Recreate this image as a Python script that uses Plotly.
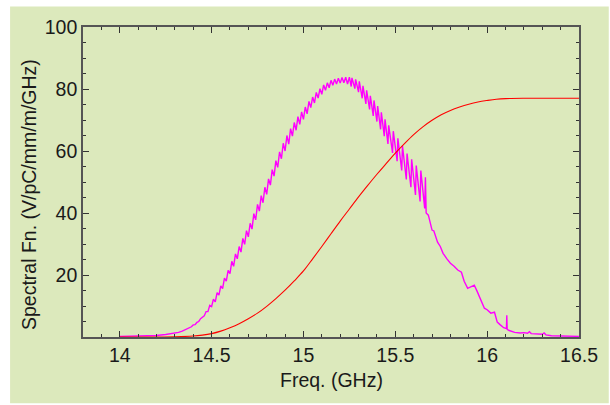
import plotly.graph_objects as go

# ---------------- data ----------------
# magenta spectral function: smooth onset
mag_onset_freq = [14.0, 14.05, 14.1, 14.15, 14.2, 14.25, 14.28, 14.3, 14.32, 14.34, 14.36,
                  14.37, 14.38, 14.39, 14.40, 14.41, 14.42, 14.43, 14.44, 14.45]
mag_onset_val = [0.2, 0.25, 0.3, 0.4, 0.5, 0.8, 1.0, 1.3, 1.5, 1.9, 2.4,
                 2.6, 3.1, 3.3, 3.9, 4.0, 4.7, 5.0, 5.9, 6.3]

# magenta oscillating band: per-cycle frequency, upper and lower values
osc_freq = [14.46, 14.48, 14.50, 14.52, 14.54, 14.56, 14.58, 14.60, 14.62, 14.64, 14.66, 14.68,
            14.70, 14.72, 14.74, 14.76, 14.78, 14.80, 14.82, 14.84, 14.86, 14.88, 14.90, 14.92,
            14.94, 14.96, 14.98, 15.00, 15.02, 15.04, 15.06, 15.08, 15.10, 15.12, 15.14, 15.16,
            15.18, 15.20, 15.22, 15.24, 15.26, 15.28, 15.30, 15.32, 15.34, 15.36, 15.38, 15.40,
            15.42, 15.44, 15.46, 15.485, 15.51, 15.535, 15.56, 15.585, 15.61, 15.635, 15.66]
osc_hi = [8.2, 10.2, 12.2, 14.3, 16.5, 19.0, 21.5, 24.4, 26.8, 29.2, 31.8, 34.3,
          36.7, 39.8, 42.8, 45.6, 48.3, 51.0, 54.0, 56.9, 59.7, 62.5, 65.0, 67.2,
          69.2, 71.1, 72.6, 74.2, 76.0, 77.4, 78.9, 80.1, 81.3, 82.0, 82.8, 83.2,
          83.5, 83.7, 83.8, 83.8, 83.6, 83.1, 82.5, 81.0, 79.6, 77.8, 76.3, 74.5,
          72.5, 70.2, 68.3, 66.4, 64.1, 61.7, 59.2, 57.3, 55.3, 53.7, 51.5]
osc_lo = [6.8, 8.2, 9.8, 11.3, 13.5, 15.6, 18.0, 20.4, 22.8, 25.2, 27.4, 29.9,
          32.3, 34.8, 37.8, 40.6, 43.3, 46.0, 49.0, 51.9, 54.7, 57.5, 60.0, 62.2,
          64.8, 66.7, 68.6, 70.2, 72.0, 74.0, 75.5, 77.1, 78.3, 79.6, 80.4, 81.2,
          81.6, 81.9, 82.0, 81.6, 80.8, 80.1, 79.0, 77.0, 75.2, 73.4, 71.3, 69.5,
          67.0, 64.8, 62.3, 59.4, 56.7, 53.7, 50.8, 48.3, 45.8, 43.7, 41.5]

# magenta tail
mag_tail_freq = [15.668, 15.68, 15.69, 15.70, 15.71, 15.73, 15.745, 15.76, 15.78, 15.80, 15.82,
                 15.84, 15.86, 15.875, 15.894, 15.91, 15.93, 15.945, 15.96, 15.985, 16.0, 16.02,
                 16.04, 16.055, 16.07, 16.09, 16.105, 16.107, 16.109, 16.12, 16.15, 16.18, 16.2,
                 16.22, 16.23, 16.24, 16.27, 16.3, 16.31, 16.32, 16.35, 16.4, 16.45, 16.5]
mag_tail_val = [40.0, 39.3, 36.5, 34.5, 34.2, 30.6, 29.2, 27.0, 25.3, 23.8, 22.8,
                21.6, 20.9, 18.0, 15.7, 16.2, 16.7, 14.8, 12.8, 9.3, 8.8, 7.7,
                8.0, 4.8, 4.0, 3.0, 2.7, 7.0, 2.5, 2.1, 1.5, 1.3, 1.4,
                1.2, 1.7, 1.1, 1.0, 0.9, 1.3, 0.7, 0.4, 0.3, 0.2, 0.2]

# red (integrated) curve
red_freq = [14.0, 14.2, 14.3, 14.4, 14.45, 14.5, 14.55, 14.6, 14.65, 14.7, 14.75, 14.8, 14.85,
            14.9, 14.95, 15.0, 15.05, 15.1, 15.15, 15.2, 15.25, 15.3, 15.35, 15.4, 15.45, 15.5,
            15.55, 15.6, 15.65, 15.7, 15.75, 15.8, 15.85, 15.9, 15.95, 16.0, 16.05, 16.1, 16.2,
            16.3, 16.5]
red_val = [0.0, 0.02, 0.08, 0.3, 0.6, 1.1, 1.9, 3.0, 4.3, 5.9, 7.7, 9.9, 12.4,
           15.1, 18.1, 21.3, 25.2, 29.2, 33.3, 37.4, 41.3, 45.2, 48.9, 52.5, 55.9, 59.3,
           62.4, 65.3, 67.8, 69.9, 71.7, 73.1, 74.2, 75.1, 75.8, 76.3, 76.7, 76.9, 77.0,
           77.0, 77.0]

x_tick_vals = [14, 14.5, 15, 15.5, 16, 16.5]
x_tick_text = ["14", "14.5", "15", "15.5", "16", "16.5"]
y_tick_vals = [20, 40, 60, 80, 100]
y_tick_text = ["20", "40", "60", "80", "100"]

# ---------------- build magenta line ----------------
mx = list(mag_onset_freq)
my = list(mag_onset_val)
for f, hi, lo in zip(osc_freq, osc_hi, osc_lo):
    rise = 0.01 if f < 15.25 else 0.004
    mx += [f, f + rise]
    my += [lo, hi]
mx += mag_tail_freq
my += mag_tail_val

BG = "#dce9bc"
FONT = "Liberation Sans, Arial, sans-serif"
FS = 19.5

fig = go.Figure()
fig.add_trace(go.Scatter(x=mx, y=my, mode="lines",
                         line=dict(color="#ff00ff", width=1.4), hoverinfo="skip"))
fig.add_trace(go.Scatter(x=red_freq, y=red_val, mode="lines", line_shape="spline",
                         line=dict(color="#ff0000", width=1.1), hoverinfo="skip"))

axis_common = dict(
    showline=True, linecolor="#555555", linewidth=1.6, mirror="ticks",
    ticks="inside", ticklen=6, tickwidth=1, tickcolor="#333333",
    showgrid=False, zeroline=False,
    tickfont=dict(family=FONT, size=FS, color="#1a1a1a"),
)

fig.update_xaxes(range=[13.8, 16.5], tickvals=x_tick_vals, ticktext=x_tick_text,
                 minor=dict(dtick=0.1, tick0=13.8, ticks="inside", ticklen=3, tickcolor="#333333"),
                 **axis_common)
fig.update_yaxes(range=[0, 100], tickvals=y_tick_vals, ticktext=y_tick_text,
                 minor=dict(dtick=5, tick0=0, ticks="inside", ticklen=3, tickcolor="#333333"),
                 **axis_common)

fig.update_layout(
    width=610, height=405,
    margin=dict(l=83, r=23, t=27, b=68),
    paper_bgcolor="white", plot_bgcolor="rgba(0,0,0,0)",
    showlegend=False,
    shapes=[dict(type="rect", xref="paper", yref="paper",
                 x0=-0.147, x1=1.06, y0=-0.214, y1=1.066,
                 fillcolor=BG, line=dict(width=0), layer="below")],
    annotations=[
        dict(text="Freq. (GHz)", xref="paper", yref="paper", x=0.5, y=-0.14,
             showarrow=False, font=dict(family=FONT, size=FS, color="#1a1a1a"),
             xanchor="center", yanchor="middle"),
        dict(text="Spectral Fn. (V/pC/mm/m/GHz)", xref="paper", yref="paper",
             x=-0.109, y=0.461, textangle=-90, showarrow=False,
             font=dict(family=FONT, size=FS, color="#1a1a1a"),
             xanchor="center", yanchor="middle"),
    ],
)

fig.write_html("out.html",
               config={"displayModeBar": False},
               post_script="document.body.style.margin='0px';document.body.style.overflow='hidden';")
